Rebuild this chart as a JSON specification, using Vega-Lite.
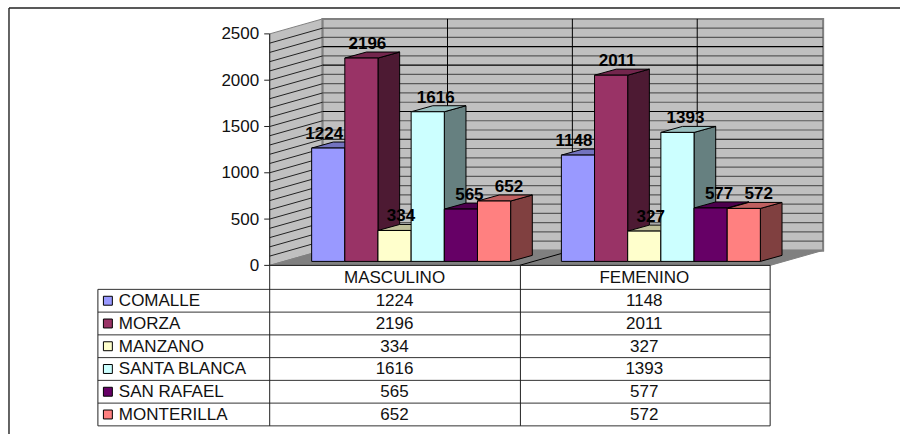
{
"$schema":"https://vega.github.io/schema/vega-lite/v6.json",
"width":901,"height":435,"padding":0,
"autosize":{"type":"fit","contains":"padding"},
"background":"white",
"config":{"view":{"stroke":null},"text":{"font":"Liberation Sans"}},
"data":{"values":[
{"group":"MASCULINO","series":"COMALLE","value":1224},
{"group":"MASCULINO","series":"MORZA","value":2196},
{"group":"MASCULINO","series":"MANZANO","value":334},
{"group":"MASCULINO","series":"SANTA BLANCA","value":1616},
{"group":"MASCULINO","series":"SAN RAFAEL","value":565},
{"group":"MASCULINO","series":"MONTERILLA","value":652},
{"group":"FEMENINO","series":"COMALLE","value":1148},
{"group":"FEMENINO","series":"MORZA","value":2011},
{"group":"FEMENINO","series":"MANZANO","value":327},
{"group":"FEMENINO","series":"SANTA BLANCA","value":1393},
{"group":"FEMENINO","series":"SAN RAFAEL","value":577},
{"group":"FEMENINO","series":"MONTERILLA","value":572}
]},
"transform":[
{"calculate":"indexof(['COMALLE','MORZA','MANZANO','SANTA BLANCA','SAN RAFAEL','MONTERILLA'],datum.series)","as":"i"},
{"calculate":"datum.group==='MASCULINO'?0:1","as":"g"},
{"calculate":"datum.g+0.168+datum.i*0.1328","as":"bx"}
],
"encoding":{
"x":{"field":"x","type":"quantitative","scale":{"domain":[-1.08,2.524],"nice":false,"zero":false},"axis":null},
"y":{"field":"y","type":"quantitative","stack":null,"scale":{"domain":[-1821,2866],"nice":false,"zero":false},"axis":null}
},
"layer":[
{"data":{"values":[{"d":0},{"d":1}]},
"transform":[{"calculate":"datum.d*0.212","as":"x"},{"calculate":"datum.d*162","as":"y"},{"calculate":"2500+datum.d*162","as":"y2"}],
"mark":{"type":"area","orient":"vertical","color":"#C0C0C0","stroke":"#808080","strokeWidth":1},
"encoding":{"y2":{"field":"y2"}}},
{"data":{"values":[{"d":0},{"d":1}]},
"transform":[{"calculate":"0.212","as":"x"},{"calculate":"2.216","as":"x2"},{"calculate":"162","as":"y"},{"calculate":"2662","as":"y2"}],
"mark":{"type":"rect","color":"#C0C0C0","stroke":"#808080","strokeWidth":2},
"encoding":{"x2":{"field":"x2"},"y2":{"field":"y2"}}},
{"data":{"values":[{"v":100},{"v":200},{"v":300},{"v":400},{"v":500},{"v":600},{"v":700},{"v":800},{"v":900},{"v":1000},{"v":1100},{"v":1200},{"v":1300},{"v":1400},{"v":1500},{"v":1600},{"v":1700},{"v":1800},{"v":1900},{"v":2000},{"v":2100},{"v":2200},{"v":2300},{"v":2400}]},
"transform":[{"calculate":"0.212","as":"x"},{"calculate":"2.216","as":"x2"},{"calculate":"datum.v+162","as":"y"}],
"mark":{"type":"rule","strokeWidth":1.2},
"encoding":{"x2":{"field":"x2"},"color":{"condition":{"test":"indexof([2200,2000,1500,1200],datum.v)>=0","value":"#000000"},"value":"#5a5a5a"}}},
{"data":{"values":[{"v":100},{"v":200},{"v":300},{"v":400},{"v":500},{"v":600},{"v":700},{"v":800},{"v":900},{"v":1000},{"v":1100},{"v":1200},{"v":1300},{"v":1400},{"v":1500},{"v":1600},{"v":1700},{"v":1800},{"v":1900},{"v":2000},{"v":2100},{"v":2200},{"v":2300},{"v":2400}]},
"transform":[{"calculate":"0","as":"x"},{"calculate":"0.212","as":"x2"},{"calculate":"datum.v","as":"y"},{"calculate":"datum.v+162","as":"y2"}],
"mark":{"type":"rule","strokeWidth":1,"color":"#222222"},
"encoding":{"x2":{"field":"x2"},"y2":{"field":"y2"}}},
{"data":{"values":[{"k":0.5},{"k":1},{"k":1.5}]},
"transform":[{"calculate":"0.212+datum.k","as":"x"},{"calculate":"162","as":"y"},{"calculate":"2662","as":"y2"}],
"mark":{"type":"rule","strokeWidth":1,"color":"#000000"},
"encoding":{"y2":{"field":"y2"}}},
{"data":{"values":[{"d":0},{"d":1}]},
"transform":[{"calculate":"datum.d*0.212","as":"x"},{"calculate":"2.004+datum.d*0.212","as":"x2"},{"calculate":"datum.d*162","as":"y"}],
"mark":{"type":"area","orient":"horizontal","color":"#808080","stroke":"#808080","strokeWidth":1},
"encoding":{"x2":{"field":"x2"},"x":{"field":"x","type":"quantitative","stack":null}}},
{"data":{"values":[{"k":1}]},
"transform":[{"calculate":"datum.k","as":"x"},{"calculate":"datum.k+0.212","as":"x2"},{"calculate":"0","as":"y"},{"calculate":"162","as":"y2"}],
"mark":{"type":"rule","strokeWidth":1,"color":"#000000"},
"encoding":{"x2":{"field":"x2"},"y2":{"field":"y2"}}},
{"transform":[{"calculate":"[0,1]","as":"d"},{"flatten":["d"]},{"calculate":"datum.bx+0.1328+datum.d*0.0868","as":"x"},{"calculate":"43+datum.d*65","as":"y"},{"calculate":"43+datum.d*65+datum.value","as":"y2"}],
"mark":{"type":"area","orient":"vertical","stroke":"#000000","strokeWidth":1},
"encoding":{"y2":{"field":"y2"},"detail":{"field":"group"},
"color":{"field":"series","type":"nominal","legend":null,"scale":{"domain":["COMALLE","MORZA","MANZANO","SANTA BLANCA","SAN RAFAEL","MONTERILLA"],"range":["#4D4D80","#4D1A33","#808066","#668080","#330033","#804040"]}}}},
{"transform":[{"calculate":"[0,1]","as":"d"},{"flatten":["d"]},{"calculate":"datum.bx+datum.d*0.0868","as":"x"},{"calculate":"datum.bx+0.1328+datum.d*0.0868","as":"x2"},{"calculate":"43+datum.d*65+datum.value","as":"y"}],
"mark":{"type":"area","orient":"horizontal","stroke":"#000000","strokeWidth":1},
"encoding":{"x":{"field":"x","type":"quantitative","stack":null},"x2":{"field":"x2"},"detail":{"field":"group"},
"color":{"field":"series","type":"nominal","legend":null,"scale":{"domain":["COMALLE","MORZA","MANZANO","SANTA BLANCA","SAN RAFAEL","MONTERILLA"],"range":["#7373BF","#73264D","#BFBF99","#99BFBF","#4D004D","#BF6060"]}}}},
{"transform":[{"calculate":"datum.bx","as":"x"},{"calculate":"datum.bx+0.1328","as":"x2"},{"calculate":"43","as":"y"},{"calculate":"43+datum.value","as":"y2"}],
"mark":{"type":"rect","stroke":"#000000","strokeWidth":1},
"encoding":{"x2":{"field":"x2"},"y2":{"field":"y2"},
"color":{"field":"series","type":"nominal","legend":null,"scale":{"domain":["COMALLE","MORZA","MANZANO","SANTA BLANCA","SAN RAFAEL","MONTERILLA"],"range":["#9999FF","#993366","#FFFFCC","#CCFFFF","#660066","#FF8080"]}}}},
{"data":{"values":[{"r":0},{"r":1},{"r":2},{"r":3},{"r":4},{"r":5},{"r":6}]},
"transform":[{"calculate":"-0.688","as":"x"},{"calculate":"2.004","as":"x2"},{"calculate":"-259-datum.r*245.7","as":"y"}],
"mark":{"type":"rule","strokeWidth":1,"color":"#333333"},
"encoding":{"x2":{"field":"x2"}}},
{"data":{"values":[{"c":0,"top":2500},{"c":1.004,"top":0},{"c":2.004,"top":0},{"c":-0.688,"top":-259}]},
"transform":[{"calculate":"datum.c","as":"x"},{"calculate":"datum.top","as":"y"},{"calculate":"-1733","as":"y2"}],
"mark":{"type":"rule","strokeWidth":1,"color":"#222222"},
"encoding":{"y2":{"field":"y2"}}},
{"data":{"values":[{"k":0}]},
"transform":[{"calculate":"0","as":"x"},{"calculate":"2.004","as":"x2"},{"calculate":"0","as":"y"}],
"mark":{"type":"rule","strokeWidth":1,"color":"#222222"},
"encoding":{"x2":{"field":"x2"}}},
{"data":{"values":[{"k":0}]},
"transform":[{"calculate":"-1.044","as":"x"},{"calculate":"2.524","as":"x2"},{"calculate":"2780","as":"y"}],
"mark":{"type":"rule","strokeWidth":1.4,"color":"#222222"},
"encoding":{"x2":{"field":"x2"}}},
{"data":{"values":[{"k":0}]},
"transform":[{"calculate":"-1.044","as":"x"},{"calculate":"2780","as":"y"},{"calculate":"-1821","as":"y2"}],
"mark":{"type":"rule","strokeWidth":1.4,"color":"#222222"},
"encoding":{"y2":{"field":"y2"}}},
{"data":{"values":[{"v":0},{"v":500},{"v":1000},{"v":1500},{"v":2000},{"v":2500}]},
"transform":[{"calculate":"-0.022","as":"x"},{"calculate":"0","as":"x2"},{"calculate":"datum.v","as":"y"}],
"mark":{"type":"rule","strokeWidth":1,"color":"#222222"},
"encoding":{"x2":{"field":"x2"}}},
{"data":{"values":[{"v":0},{"v":500},{"v":1000},{"v":1500},{"v":2000},{"v":2500}]},
"transform":[{"calculate":"-0.042","as":"x"},{"calculate":"datum.v","as":"y"}],
"mark":{"type":"text","align":"right","baseline":"middle","fontSize":17,"dy":0.5,"color":"#111111"},
"encoding":{"text":{"field":"v","type":"quantitative"}}},
{"transform":[{"calculate":"{'COMALLE':-0.016,'MORZA':0.024,'MANZANO':0.026,'SANTA BLANCA':0.032,'SAN RAFAEL':0.034,'MONTERILLA':0.06}[datum.series]","as":"off"},{"calculate":"datum.bx+0.0664+datum.off","as":"x"},{"calculate":"43+datum.value+151","as":"y"}],
"mark":{"type":"text","align":"center","baseline":"middle","fontSize":17,"fontWeight":"bold","color":"#000000"},
"encoding":{"text":{"field":"value","type":"quantitative"}}},
{"transform":[{"filter":"datum.i===0"},{"calculate":"datum.g+0.5","as":"x"},{"calculate":"-129","as":"y"}],
"mark":{"type":"text","align":"center","baseline":"middle","fontSize":17,"dy":0.5,"color":"#111111"},
"encoding":{"text":{"field":"group","type":"nominal"}}},
{"transform":[{"calculate":"datum.g+0.5","as":"x"},{"calculate":"-259-(datum.i+0.5)*245.7","as":"y"}],
"mark":{"type":"text","align":"center","baseline":"middle","fontSize":17,"dy":0.5,"color":"#111111"},
"encoding":{"text":{"field":"value","type":"quantitative"}}},
{"transform":[{"filter":"datum.g===0"},{"calculate":"-0.604","as":"x"},{"calculate":"-259-(datum.i+0.5)*245.7","as":"y"}],
"mark":{"type":"text","align":"left","baseline":"middle","fontSize":17,"dy":0.5,"color":"#111111"},
"encoding":{"text":{"field":"series","type":"nominal"}}},
{"transform":[{"filter":"datum.g===0"},{"calculate":"-0.648","as":"x"},{"calculate":"-259-(datum.i+0.5)*245.7","as":"y"}],
"mark":{"type":"point","shape":"square","size":80,"filled":true,"stroke":"#000000","strokeWidth":1,"opacity":1},
"encoding":{"color":{"field":"series","type":"nominal","legend":null,"scale":{"domain":["COMALLE","MORZA","MANZANO","SANTA BLANCA","SAN RAFAEL","MONTERILLA"],"range":["#9999FF","#993366","#FFFFCC","#CCFFFF","#660066","#FF8080"]}}}}
],
"resolve":{"scale":{"color":"independent"}}
}
